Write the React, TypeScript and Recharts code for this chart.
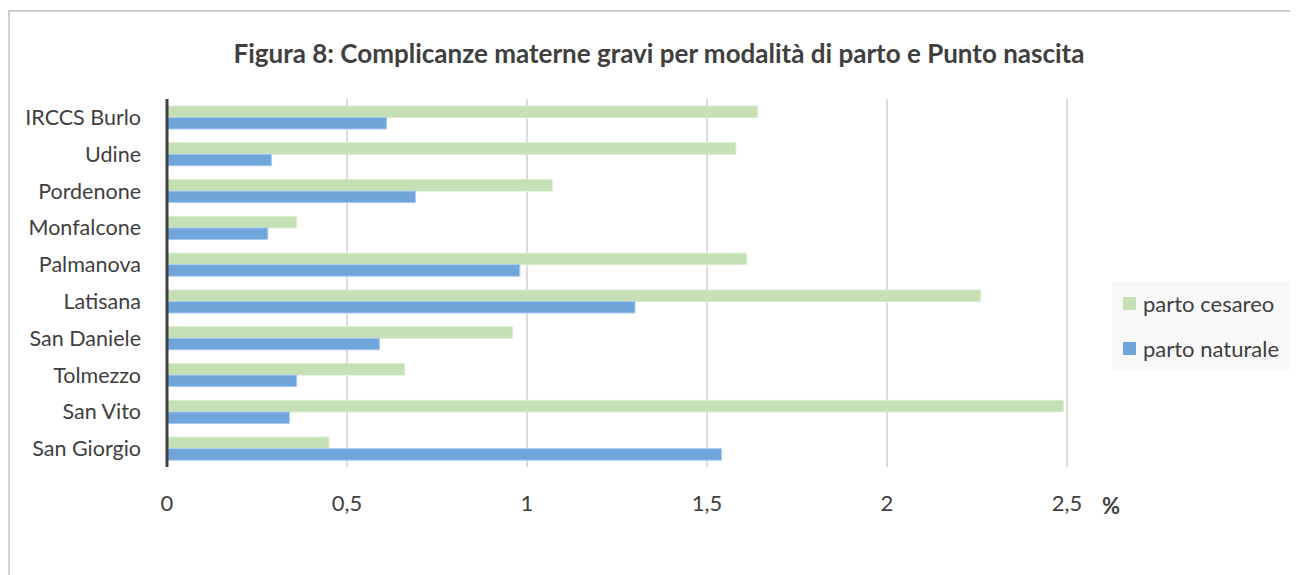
import React from "react";
import { BarChart, Bar, XAxis, YAxis, CartesianGrid } from "recharts";

const TEXT = "#404040";
const CESAREO = "#c5e0b4";
const NATURALE = "#70a5dc";
const FONT = "Lato, 'Open Sans', sans-serif";

const categories = [
  "IRCCS Burlo",
  "Udine",
  "Pordenone",
  "Monfalcone",
  "Palmanova",
  "Latisana",
  "San Daniele",
  "Tolmezzo",
  "San Vito",
  "San Giorgio",
];
const partoCesareo = [1.64, 1.58, 1.07, 0.36, 1.61, 2.26, 0.96, 0.66, 2.49, 0.45];
const partoNaturale = [0.61, 0.29, 0.69, 0.28, 0.98, 1.3, 0.59, 0.36, 0.34, 1.54];
const xTicks = [0, 0.5, 1, 1.5, 2, 2.5];

const rows = categories.map((name, i) => ({
  name,
  cesareo: partoCesareo[i],
  naturale: partoNaturale[i],
}));

const W = 1290;
const H = 567;

export default function App() {
  return (
    <div style={{ position: "relative", width: W, height: H, fontFamily: FONT }}>
      {/* chart area frame, only top/left visible in the original */}
      <div
        style={{
          position: "absolute",
          left: 0,
          top: 2,
          width: W,
          height: H,
          borderTop: "2px solid #cfcfcf",
          borderLeft: "2px solid #cfcfcf",
          boxSizing: "border-box",
        }}
      />
      <div
        style={{
          position: "absolute",
          left: 0,
          top: 29,
          width: 1302,
          textAlign: "center",
          fontSize: 26,
          fontWeight: 700,
          color: TEXT,
          lineHeight: "32px",
        }}
      >
        Figura 8: Complicanze materne gravi per modalità di parto e Punto nascita
      </div>
      <div style={{ position: "absolute", left: 0, top: 0 }}>
        <BarChart
          width={W}
          height={H}
          data={rows}
          layout="vertical"
          margin={{ top: 91, right: 231, left: 0, bottom: 78 }}
          barGap={0}
          barSize={11.5}
        >
          <CartesianGrid horizontal={false} stroke="#b8b8b8" />
          <XAxis
            type="number"
            domain={[0, 2.5]}
            ticks={xTicks}
            axisLine={false}
            tickLine={false}
            tickSize={0}
            tickMargin={28}
            height={30}
            tick={{ fontSize: 22, fill: TEXT, fontFamily: FONT }}
            tickFormatter={(v: number) => String(v).replace(".", ",")}
          />
          <YAxis
            type="category"
            dataKey="name"
            width={159}
            axisLine={{ stroke: TEXT, strokeWidth: 3 }}
            tickLine={false}
            tickSize={0}
            tickMargin={26}
            tick={{ fontSize: 21.5, fill: TEXT, fontFamily: FONT }}
          />
          <Bar dataKey="cesareo" fill={CESAREO} stroke="#d8ebcc" strokeWidth={1} isAnimationActive={false} />
          <Bar dataKey="naturale" fill={NATURALE} stroke="#a9c9ee" strokeWidth={1} isAnimationActive={false} />
        </BarChart>
      </div>
      <div
        style={{
          position: "absolute",
          left: 1094,
          top: 486,
          fontSize: 22,
          lineHeight: "24px",
          fontWeight: 700,
          color: TEXT,
        }}
      >
        %
      </div>
      <div
        style={{
          position: "absolute",
          left: 1104,
          top: 274,
          width: 181,
          height: 88,
          background: "#f8f8f8",
          color: TEXT,
          fontSize: 22,
        }}
      >
        {[
          { label: "parto cesareo", color: CESAREO, y: 21 },
          { label: "parto naturale", color: NATURALE, y: 66 },
        ].map((it) => (
          <div
            key={it.label}
            style={{
              position: "absolute",
              left: 11,
              top: it.y - 13,
              height: 26,
              display: "flex",
              alignItems: "center",
              whiteSpace: "nowrap",
            }}
          >
            <span style={{ display: "inline-block", width: 13, height: 13, background: it.color, marginRight: 7 }} />
            {it.label}
          </div>
        ))}
      </div>
    </div>
  );
}
